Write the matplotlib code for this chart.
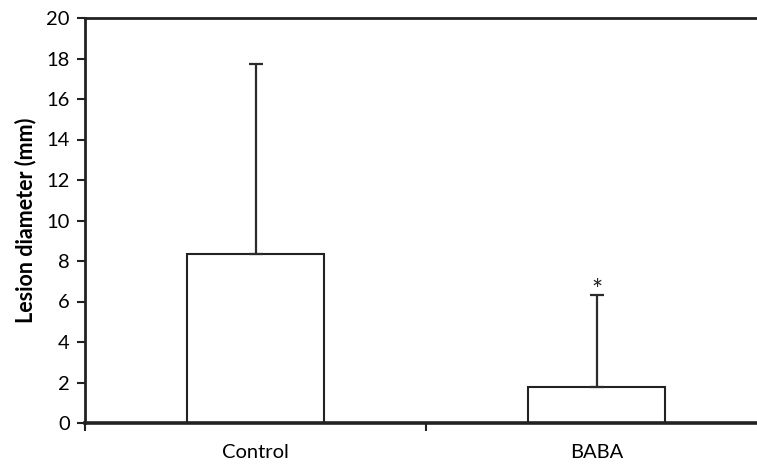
import numpy as np
from matplotlib import pyplot as plt

groups = ['Control', 'BABA']
means = [8.35, 1.78]
err_up = [9.38, 4.54]
y_ticks = [0, 2, 4, 6, 8, 10, 12, 14, 16, 18, 20]

plt.rcParams['font.family'] = ['Lato', 'DejaVu Sans']

fig = plt.figure(figsize=(7.57, 4.66), dpi=100)
ax = fig.add_axes([85/757, 43/466, 682/757, 405/466])

x = np.arange(len(groups)) + 0.5
ax.bar(x, means, width=0.4, color='white', edgecolor='#222222', linewidth=1.5, zorder=2)
ax.errorbar(x, means, yerr=[[0, 0], err_up], fmt='none', ecolor='#2b2b2b',
            elinewidth=1.6, capsize=4.8, capthick=1.6, zorder=3)

# significance mark
ax.text(x[1], means[1] + err_up[1] - 0.45, '*', ha='center', va='bottom', fontsize=19, color='#222222')

ax.set_xlim(0, 2)
ax.set_ylim(0, 20)
ax.set_yticks(y_ticks)
ax.set_xticks([0, 1, 2])
ax.set_xticklabels([])
ax.set_xticks(x, minor=True)
ax.set_xticklabels(groups, minor=True)
ax.tick_params(axis='x', which='minor', length=0, pad=15, labelsize=14.5)
ax.tick_params(axis='x', which='major', direction='out', length=6, width=1.5, color='#222222')
ax.tick_params(axis='y', direction='out', length=6, width=1.5, color='#222222', labelsize=14.5, pad=5)

ax.set_ylabel('Lesion diameter (mm)', fontsize=15.5, fontweight='bold', labelpad=7)

ax.spines['right'].set_visible(False)
ax.spines['left'].set_linewidth(2)
ax.spines['top'].set_linewidth(2)
ax.spines['bottom'].set_linewidth(2.6)
for s in ax.spines.values():
    s.set_color('#222222')

fig.savefig('out.png', dpi=100)
